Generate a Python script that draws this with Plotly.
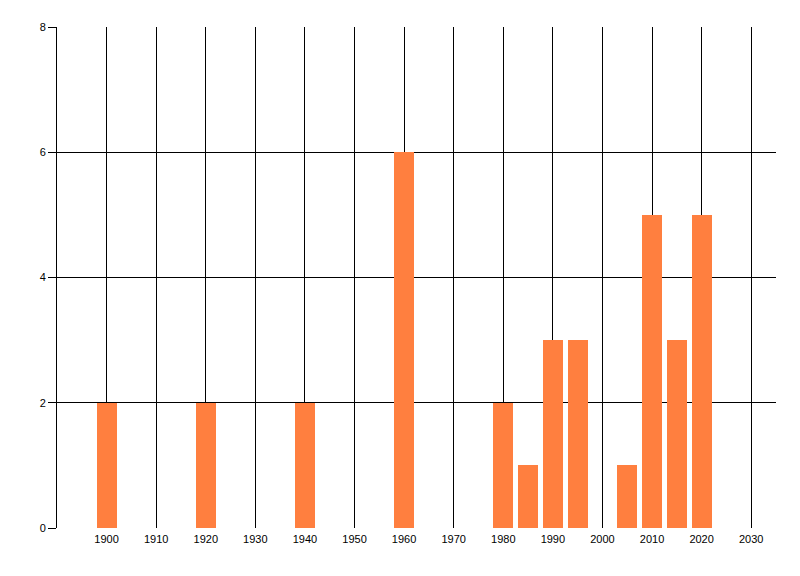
import plotly.graph_objects as go

years = [1900, 1920, 1940, 1960, 1980, 1985, 1990, 1995, 2005, 2010, 2015, 2020]
counts = [2, 2, 2, 6, 2, 1, 3, 3, 1, 5, 3, 5]
x_ticks = list(range(1900, 2031, 10))
y_ticks = [0, 2, 4, 6, 8]

fig = go.Figure()
fig.add_trace(go.Bar(x=years, y=counts, width=4,
                     marker=dict(color="#FF7F3F", line=dict(width=0))))

fig.update_layout(
    width=800, height=576,
    margin=dict(l=49, r=32, t=19, b=56),
    paper_bgcolor="white", plot_bgcolor="white",
    showlegend=False,
    font=dict(family="Liberation Sans", size=11, color="#000000"),
    bargap=0,
)
fig.update_xaxes(range=[1890, 2035], tickvals=x_ticks, ticktext=[str(v) for v in x_ticks],
                 showgrid=True, gridcolor="black", gridwidth=1,
                 zeroline=False, showline=False, ticks="", ticklabelstandoff=3)
fig.update_yaxes(range=[0, 8], tickvals=y_ticks, showgrid=True, gridcolor="black", gridwidth=1,
                 zeroline=False, showline=True, linecolor="black", linewidth=1,
                 ticks="outside", ticklen=8, tickcolor="black", tickwidth=1)

fig.write_html("out.html")
